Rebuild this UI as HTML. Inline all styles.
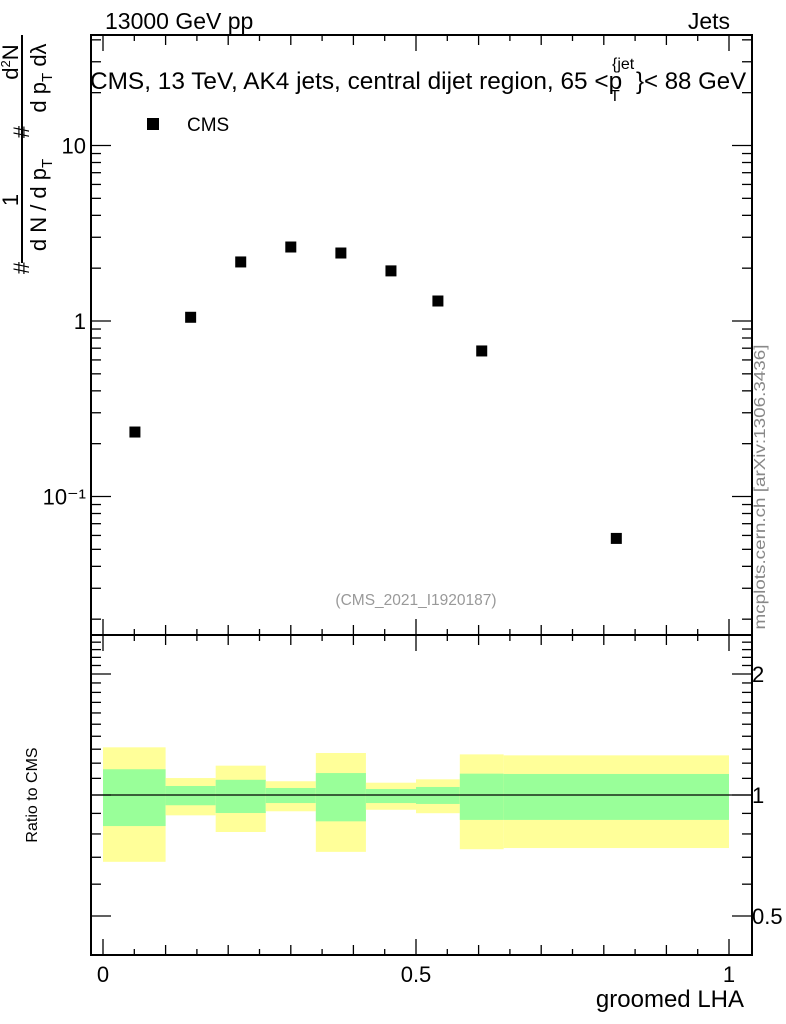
<!DOCTYPE html>
<html><head><meta charset="utf-8"><style>
html,body{margin:0;padding:0;background:#fff}
svg{display:block;font-family:"Liberation Sans",sans-serif}
</style></head><body>
<svg id="c" width="786" height="1024" viewBox="0 0 786 1024" xmlns="http://www.w3.org/2000/svg">
<rect width="786" height="1024" fill="#fff"/>
<g id="bands"></g>
<g id="marks"></g>
<g id="axes"></g>
<text x="105" y="29" font-size="23">13000 GeV pp</text>
<text x="730" y="29" font-size="23" text-anchor="end">Jets</text>
<g>
<text x="90" y="89" font-size="24.4">CMS, 13 TeV, AK4 jets, central dijet region, 65 &lt;p</text>
<text x="612" y="69" font-size="16">{jet</text>
<text x="610" y="101" font-size="16">T</text>
<text x="636" y="89" font-size="24">}&lt; 88 GeV</text>
</g>
<rect x="147" y="118" width="12" height="12" fill="#000"/>
<text x="187" y="131" font-size="19">CMS</text>
<text x="416" y="605" font-size="15.5" fill="#999" text-anchor="middle">(CMS_2021_I1920187)</text>
<text transform="translate(765,487) rotate(-90)" font-size="16" fill="#888" text-anchor="middle" textLength="285" lengthAdjust="spacingAndGlyphs">mcplots.cern.ch [arXiv:1306.3436]</text>
<text transform="translate(37,795) rotate(-90)" font-size="16" text-anchor="middle">Ratio to CMS</text>
<text x="744" y="1007" font-size="24" text-anchor="end">groomed LHA</text>
<g font-size="22">
<line x1="22" y1="35" x2="22" y2="263" stroke="#000" stroke-width="2"/>
<text transform="translate(29,268) rotate(-90)" text-anchor="middle">#</text>
<text transform="translate(18,200) rotate(-90)" text-anchor="middle">1</text>
<text transform="translate(46,205) rotate(-90)" text-anchor="middle">d N / d p<tspan font-size="15" dy="6">T</tspan></text>
<text transform="translate(29,132) rotate(-90)" text-anchor="middle">#</text>
<text transform="translate(18,62) rotate(-90)" text-anchor="middle">d<tspan font-size="13" dy="-8">2</tspan><tspan dy="8">N</tspan></text>
<text transform="translate(46,78) rotate(-90)" text-anchor="middle">d p<tspan font-size="15" dy="6">T</tspan><tspan dy="-6"> dλ</tspan></text>
</g>
</svg>
<script>
var binEdges=[0,0.1,0.18,0.26,0.34,0.42,0.5,0.57,0.64,1.0];
var xCenters=[0.051,0.14,0.22,0.30,0.38,0.46,0.535,0.605,0.82];
var yValues=[0.233,1.05,2.17,2.64,2.44,1.93,1.30,0.675,0.0577];
var yellowHi=[1.314,1.102,1.183,1.082,1.272,1.073,1.094,1.262,1.255];
var yellowLo=[0.682,0.890,0.809,0.911,0.722,0.919,0.901,0.733,0.738];
var greenHi=[1.159,1.053,1.091,1.041,1.134,1.035,1.047,1.130,1.128];
var greenLo=[0.837,0.943,0.902,0.955,0.860,0.955,0.950,0.867,0.867];
var xTickLabels=["0","0.5","1"];
var topTickLabels=["10\u207B\u00B9","1","10"];
var ratioTickLabels=["0.5","1","2"];

var NS="http://www.w3.org/2000/svg";
var L=91,R=752,T=35,M=635,B=955;
function X(v){return 103+626*v;}
function Y(v){return 321-175.5*Math.log10(v);}
function RY(v){return 795-121*Math.log2(v);}
function mk(tag,attrs,parent){var e=document.createElementNS(NS,tag);for(var k in attrs)e.setAttribute(k,attrs[k]);parent.appendChild(e);return e;}
var bands=document.getElementById('bands'),marks=document.getElementById('marks'),axes=document.getElementById('axes');
for(var i=0;i<xCenters.length;i++){
  var x0=X(binEdges[i]),x1=X(binEdges[i+1]);
  var yb=mk('rect',{x:x0,y:RY(yellowHi[i]),width:x1-x0,height:RY(yellowLo[i])-RY(yellowHi[i]),fill:'#ffff99'},bands);
  
  
  var gb=mk('rect',{x:x0,y:RY(greenHi[i]),width:x1-x0,height:RY(greenLo[i])-RY(greenHi[i]),fill:'#99ff99'},bands);
  
  
  var p=mk('rect',{x:X(xCenters[i])-5.5,y:Y(yValues[i])-5.5,width:11,height:11,fill:'#000'},marks);
  
  
}
var one=mk('line',{x1:L,x2:R,y1:RY(1),y2:RY(1),stroke:'#000','stroke-width':1.2},bands);


function ln(a,b,c,d){return mk('line',{x1:a,y1:b,x2:c,y2:d,stroke:'#000','stroke-width':1.3},axes);}
mk('rect',{x:L,y:T,width:R-L,height:M-T,fill:'none',stroke:'#000','stroke-width':2},axes);
mk('rect',{x:L,y:M,width:R-L,height:B-M,fill:'none',stroke:'#000','stroke-width':2},axes);
for(var k=0;k<=20;k++){
  var v=k*0.05,x=X(v),len=(k%10==0)?16:(k%2==0?10:6);
  ln(x,B,x,B-len);ln(x,M,x,M+len);ln(x,M,x,M-len);ln(x,T,x,T+len);
}
for(var j=0;j<3;j++){var t=mk('text',{x:X(j*0.5),y:982,'font-size':22,'text-anchor':'middle'},axes);t.textContent=xTickLabels[j];}
for(var d=-2;d<=1;d++){for(var m=1;m<=9;m++){var v=m*Math.pow(10,d),y=Y(v);if(y<T||y>M)continue;var len=m==1?20:10;ln(L,y,L+len,y);ln(R,y,R-len,y);}}
var tpos=[0.1,1,10];
for(var j=0;j<3;j++){var t=mk('text',{x:86,y:Y(tpos[j])+8,'font-size':22,'text-anchor':'end'},axes);t.textContent=topTickLabels[j];}
for(var q=4;q<=25;q++){var v=q/10,y=RY(v);if(y<M||y>B)continue;var len=(q==5||q==10||q==20)?20:10;ln(L,y,L+len,y);ln(R,y,R-len,y);}
var rpos=[0.5,1,2];
for(var j=0;j<3;j++){var y=RY(rpos[j])+8;
 var t2=mk('text',{x:752,y:y,'font-size':22,'text-anchor':'start'},axes);t2.textContent=ratioTickLabels[j];}
</script>
</body></html>
